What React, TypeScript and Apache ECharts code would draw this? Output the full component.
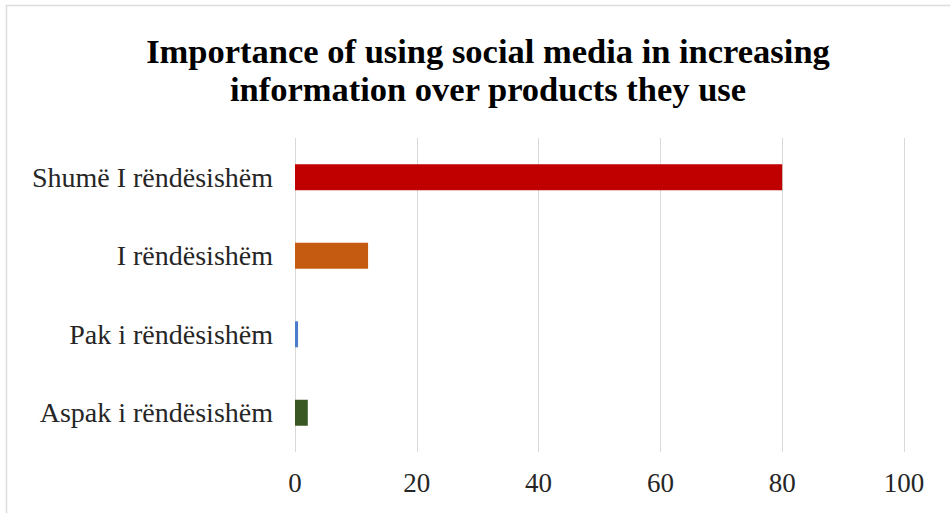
import React, { useEffect, useRef } from "react";
import * as echarts from "echarts";

const titleLines = [
  "Importance of using social media in increasing",
  "information over products they use",
];
const categories = [
  "Aspak i rëndësishëm",
  "Pak i rëndësishëm",
  "I rëndësishëm",
  "Shumë I rëndësishëm",
];
const values = [2.1, 0.5, 12, 80];
const barColors = ["#385723", "#4A7CC9", "#C55A11", "#C00000"];
const xMin = 0;
const xMax = 100;
const xInterval = 20;

export default function App() {
  const ref = useRef<HTMLDivElement>(null);
  useEffect(() => {
    if (!ref.current) return;
    const chart = echarts.init(ref.current, null, { renderer: "svg" });
    chart.setOption({
      animation: false,
      backgroundColor: "#ffffff",
      title: {
        text: titleLines.join("\n"),
        left: 483,
        top: 27,
        textAlign: "center",
        textStyle: {
          fontFamily: "Liberation Serif",
          fontWeight: "bold",
          fontSize: 34.5,
          lineHeight: 38,
          color: "#000000",
        },
      },
      graphic: [
        {
          type: "line",
          shape: { x1: 6, y1: 5.5, x2: 950, y2: 5.5 },
          style: { stroke: "#dcdcdc", lineWidth: 1.5 },
          silent: true,
        },
        {
          type: "line",
          shape: { x1: 6.5, y1: 5, x2: 6.5, y2: 513 },
          style: { stroke: "#dcdcdc", lineWidth: 1.5 },
          silent: true,
        },
      ],
      grid: { left: 295, right: 46, top: 138, bottom: 61, containLabel: false },
      xAxis: {
        type: "value",
        min: xMin,
        max: xMax,
        interval: xInterval,
        axisLine: { show: false },
        axisTick: { show: false },
        splitLine: { show: true, lineStyle: { color: "#d9d9d9", width: 1 } },
        axisLabel: {
          margin: 17,
          fontFamily: "Liberation Serif",
          fontSize: 27,
          color: "#262626",
        },
      },
      yAxis: {
        type: "category",
        data: categories,
        axisLine: { show: false },
        axisTick: { show: false },
        splitLine: { show: false },
        axisLabel: {
          margin: 22,
          fontFamily: "Liberation Serif",
          fontSize: 28,
          color: "#262626",
        },
      },
      series: [
        {
          type: "bar",
          data: values.map((v, i) => ({ value: v, itemStyle: { color: barColors[i] } })),
          barWidth: 26,
        },
      ],
    });
    return () => chart.dispose();
  }, []);
  return (
    <div
      ref={ref}
      style={{ position: "fixed", left: 0, top: 0, width: 950, height: 513 }}
    />
  );
}
